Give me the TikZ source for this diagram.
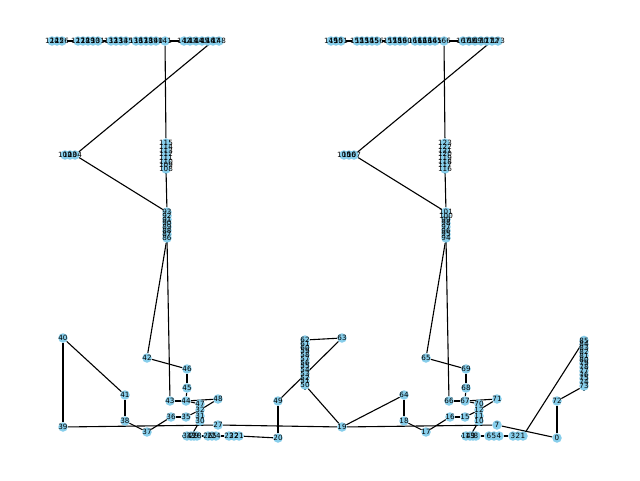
\documentclass[tikz,border=0pt]{standalone}
\usepackage{fontspec}
\setmainfont{DejaVu Sans}
\definecolor{skyblue}{HTML}{87CEEB}
\pgfdeclarelayer{edges}
\pgfsetlayers{edges,main}

\begin{document}
\begin{tikzpicture}[x=1pt, y=-1pt,
    vtx/.style={circle, fill=skyblue, minimum size=9.5pt, inner sep=0pt},
    lbl/.style={inner sep=0pt, font=\fontsize{7.2}{8}\selectfont},
    edge/.style={line width=1.1pt}]
  \useasboundingbox (0,0) rectangle (640,480);
  % lower nodes
  \foreach \n/\x/\y in {40/63/338, 39/63/427, 41/125/395, 38/125/421, 37/147/432,
      42/147/358, 46/187/369, 45/187/388, 44/186/401, 43/170/401, 48/218/399,
      47/200/404, 32/200/410, 31/200/416, 30/200/421, 36/171/417, 35/186/417,
      27/218/425, 34/187/436, 33/191/436, 29/194/436, 28/197/436, 26/208/436,
      25/212/436, 24/216/436, 23/229/436, 22/234/436, 21/239/436, 20/278/438,
      49/278/401, 63/342/338, 19/342/427,
      64/404/395, 18/404/421, 17/426/432, 65/426/358, 69/466/369, 68/466/388,
      67/465/401, 66/449/401, 71/497/399, 70/479/404, 12/479/410, 11/479/416,
      10/479/421, 16/450/417, 15/465/417, 7/497/425, 14/466/436, 13/470/436,
      9/473/436, 8/476/436, 6/489/436, 5/494/436, 4/499/436, 3/513/436,
      2/518/436, 1/523/436, 0/557/438, 72/557/401}
    \node[vtx] (n\n) at (\x,\y) {};
  % stacked columns
  \foreach \n [count=\k from 0] in {50,...,62}
    \node[vtx] (n\n) at (305,{385-3.75*\k}) {};
  \foreach \n [count=\k from 0] in {73,...,85}
    \node[vtx] (n\n) at (584,{386-3.8*\k}) {};
  % upper part, left and right copy
  \foreach \s/\r/\c/\m/\d in {0/124/108/102/86, 279/149/116/105/94} {
    \foreach \x [count=\k from \r] in {52,57,62,78,83,88,93,98,111,116,121,126,
        136,141,146,151,156,165,184,190,196,202,208,213,219}
      \node[vtx] (n\k) at ({\x+\s},41) {};
    \foreach \k in {0,...,7} {
      \pgfmathtruncatemacro\i{\c+\k}
      \node[vtx] (n\i) at ({166+\s},{169-3.7*\k}) {};
      \pgfmathtruncatemacro\i{\d+\k}
      \node[vtx] (n\i) at ({167+\s},{238-3.7*\k}) {};
    }
    \foreach \k in {0,1,2} {
      \pgfmathtruncatemacro\i{\m+\k}
      \node[vtx] (n\i) at ({65+5*\k+\s},155) {};
    }
  }
  % connectors
  \begin{pgfonlayer}{edges}
    \foreach \a/\b in {40/39, 40/41, 41/38, 38/37, 37/36, 36/35, 35/32, 42/46,
        46/45, 45/44, 44/43, 44/48, 48/32, 44/47, 47/32, 32/31, 31/30, 30/33,
        34/33, 33/29, 29/28, 28/26, 26/25, 25/24, 24/23, 23/22, 22/21, 21/20,
        20/49, 49/63, 62/63, 50/19, 39/27, 27/19, 19/7, 7/0,
        19/64, 64/18, 18/17, 17/16, 16/15, 15/12, 65/69, 69/68, 68/67, 67/66,
        67/71, 71/12, 67/70, 70/12, 12/11, 11/10, 10/13, 14/13, 13/9, 9/8, 8/6,
        6/5, 5/4, 4/3, 3/2, 2/1, 1/85, 0/72, 72/73,
        141/115, 147/104, 104/93, 108/93, 86/42, 86/43,
        166/123, 172/107, 107/101, 116/101, 94/65, 94/66}
      \draw[edge] (n\a) -- (n\b);
    \foreach \p/\q in {50/61, 73/84, 86/92, 94/100, 102/103, 105/106,
        108/114, 116/122, 124/147, 149/172}
      \foreach \a in {\p,...,\q} {
        \pgfmathtruncatemacro\b{\a+1}
        \draw[edge] (n\a) -- (n\b);
      }
  \end{pgfonlayer}
  % labels on top
  \foreach \n in {0,...,173}
    \node[lbl] at (n\n) {\n};
\end{tikzpicture}
\end{document}
